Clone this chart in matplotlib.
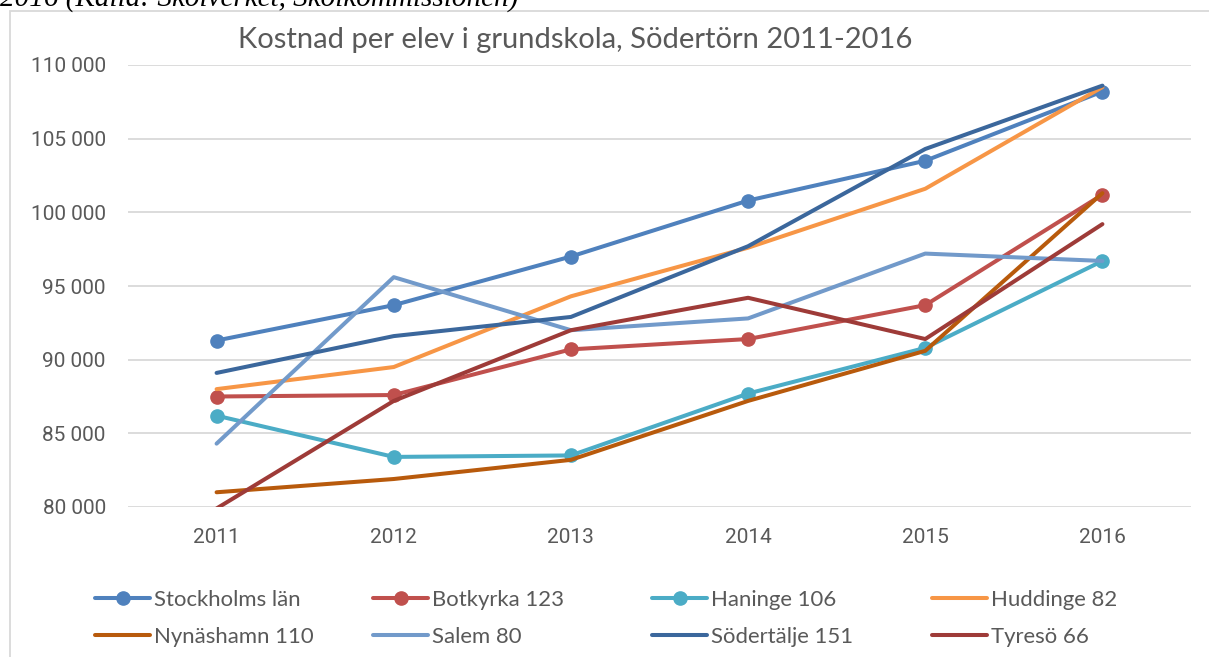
import matplotlib.pyplot as plt
from matplotlib.patches import Rectangle
from matplotlib.lines import Line2D
from matplotlib.ticker import FuncFormatter

years = ["2011", "2012", "2013", "2014", "2015", "2016"]

stockholms_lan = [91300, 93700, 97000, 100800, 103500, 108200]
botkyrka = [87500, 87600, 90700, 91400, 93700, 101200]
haninge = [86200, 83400, 83500, 87700, 90800, 96700]
huddinge = [88000, 89500, 94300, 97600, 101600, 108500]
nynashamn = [81000, 81900, 83200, 87200, 90600, 101300]
salem = [84300, 95600, 92000, 92800, 97200, 96700]
sodertalje = [89100, 91600, 92900, 97700, 104300, 108600]
tyreso = [79900, 87200, 92000, 94200, 91400, 99200]

names = ["Stockholms län", "Botkyrka 123", "Haninge 106", "Huddinge 82",
         "Nynäshamn 110", "Salem 80", "Södertälje 151", "Tyresö 66"]
series = [stockholms_lan, botkyrka, haninge, huddinge,
          nynashamn, salem, sodertalje, tyreso]
colors = ["#4F81BD", "#C0504D", "#4BACC6", "#F79646",
          "#B85A0C", "#729ACA", "#3B679C", "#9E3B38"]
with_marker = [True, True, True, False, False, False, False, False]

grey = "#595959"
plt.rcParams['font.family'] = ['Lato', 'DejaVu Sans']

fig = plt.figure(figsize=(12.09, 6.57), dpi=100)
ax = fig.add_axes([128 / 1209, 1 - 507 / 657, (1191 - 128) / 1209, (507 - 65) / 657])

x = range(len(years))
handles = []
for name, vals, c, m in zip(names, series, colors, with_marker):
    h, = ax.plot(x, vals, color=c, lw=2.9, marker='o' if m else None,
                 markersize=9.5, solid_capstyle='round', solid_joinstyle='round',
                 label=name, zorder=3)
    handles.append(h)

ax.set_xlim(-0.5, 5.5)
ax.set_ylim(80000, 110000)
ax.set_yticks(range(80000, 110001, 5000))
ax.yaxis.set_major_formatter(FuncFormatter(lambda v, p: f"{int(v):,}".replace(",", " ")))
ax.set_xticks(list(x))
ax.set_xticklabels(years)
ax.grid(axis='y', color="#D9D9D9", lw=1.3)
ax.set_axisbelow(True)
for s in ax.spines.values():
    s.set_visible(False)
ax.tick_params(length=0, colors=grey, labelsize=15, labelfontfamily='Roboto')
ax.tick_params(axis='y', pad=16)
ax.tick_params(axis='x', pad=15)

fig.text(575 / 1209, 1 - 40 / 657, "Kostnad per elev i grundskola, Södertörn 2011-2016",
         ha='center', va='center', fontsize=21, color=grey)

# chart border and clipped caption above it
fig.patches.append(Rectangle((10 / 1209, -0.05), 1.05, 1.05 - 11 / 657,
                             transform=fig.transFigure, fill=False,
                             edgecolor="#D9D9D9", lw=1.3))
fig.text(0, 1 - 6 / 657, "2016 (Källa: Skolverket, Skolkommissionen)",
         ha='left', va='baseline', fontsize=21, style='italic',
         family='Liberation Serif', color='black')

# legend, four columns laid out like Excel
col_x = [95, 373, 652, 932]
for i, cx in enumerate(col_x):
    hs = []
    for j in (i, i + 4):
        h = handles[j]
        hs.append(Line2D([], [], color=h.get_color(), lw=2.9,
                         marker=h.get_marker(), markersize=9.5,
                         solid_capstyle='round'))
    leg = fig.legend(hs, [names[i], names[i + 4]], loc='upper left',
                     bbox_to_anchor=(cx / 1209, 1 - 590 / 657), frameon=False,
                     fontsize=15.9, handlelength=2.5, handletextpad=0.18,
                     borderpad=0, borderaxespad=0, labelspacing=0.75)
    for t in leg.get_texts():
        t.set_color(grey)

fig.savefig("out.png", dpi=100)
